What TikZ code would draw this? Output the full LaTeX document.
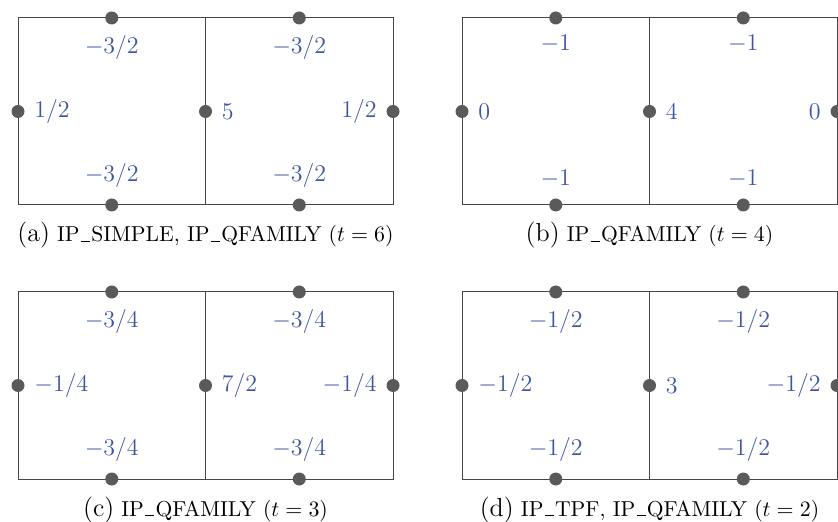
\documentclass[tikz,border=0pt]{standalone}
\usetikzlibrary{positioning}
\definecolor{labblue}{RGB}{64,84,164}
\definecolor{dotgray}{RGB}{90,90,90}
\definecolor{linegray}{RGB}{70,70,70}
\newcommand\usc{\leavevmode\kern.06em\vbox{\hrule width .42em height .7pt}\kern.06em}
\newcommand\sublab[1]{{\fontsize{13}{15}\selectfont #1}}
\newcommand\gridpanel[8]{%
  % #1 prefix, #2 x0, #3 y0, #4 top/bottom label, #5 left, #6 mid, #7 right, #8 caption
  \begin{scope}[shift={(#2,#3)}]
    \coordinate (#1nw) at (0,0);
    \coordinate (#1ne) at (375,0);
    \coordinate (#1sw) at (0,187);
    \coordinate (#1se) at (375,187);
    \coordinate (#1nm) at (187.5,0);
    \coordinate (#1sm) at (187.5,187);
    \draw[gridline] (#1nw) -- (#1ne) -- (#1se) -- (#1sw) -- cycle;
    \draw[gridline] (#1nm) -- (#1sm);
    \node[gdot] (#1t1) at (93.75,0) {};
    \node[gdot] (#1t2) at (281.25,0) {};
    \node[gdot] (#1b1) at (93.75,187) {};
    \node[gdot] (#1b2) at (281.25,187) {};
    \node[gdot] (#1l) at (0,93.5) {};
    \node[gdot] (#1m) at (187.5,93.5) {};
    \node[gdot] (#1r) at (375,93.5) {};
    \node[lab,anchor=north] (#1lt1) at (93.75,17) {$#4$};
    \node[lab,anchor=north] (#1lt2) at (281.25,17) {$#4$};
    \node[lab,anchor=south] (#1lb1) at (93.75,170) {$#4$};
    \node[lab,anchor=south] (#1lb2) at (281.25,170) {$#4$};
    \node[lab,anchor=west] (#1ll) at (16,93.5) {$#5$};
    \node[lab,anchor=west] (#1lm) at (203.5,93.5) {$#6$};
    \node[lab,anchor=east] (#1lr) at (359,93.5) {$#7$};
    \node[captext,anchor=base] (#1cap) at (187.5,224) {#8};
  \end{scope}}
\begin{document}
\begin{tikzpicture}[x=0.5pt,y=-0.5pt,
  gridline/.style={draw=linegray,line width=0.5pt},
  gdot/.style={circle,fill=dotgray,inner sep=0pt,minimum size=6.5pt},
  lab/.style={text=labblue,inner sep=0pt,font=\fontsize{12}{14}\selectfont},
  captext/.style={inner sep=0pt,font=\fontsize{10.8}{13}\selectfont}]
\useasboundingbox (0,0) rectangle (838,522);
\gridpanel{a}{18}{18}{-3/2}{1/2}{5}{1/2}{\sublab{(a)} IP\usc SIMPLE, IP\usc QFAMILY ($t=6$)}
\gridpanel{b}{462}{18}{-1}{0}{4}{0}{\sublab{(b)} IP\usc QFAMILY ($t=4$)}
\gridpanel{c}{18}{292}{-3/4}{-1/4}{7/2}{-1/4}{\sublab{(c)} IP\usc QFAMILY ($t=3$)}
\gridpanel{d}{462}{292}{-1/2}{-1/2}{3}{-1/2}{\sublab{(d)} IP\usc TPF, IP\usc QFAMILY ($t=2$)}
\end{tikzpicture}
\end{document}
